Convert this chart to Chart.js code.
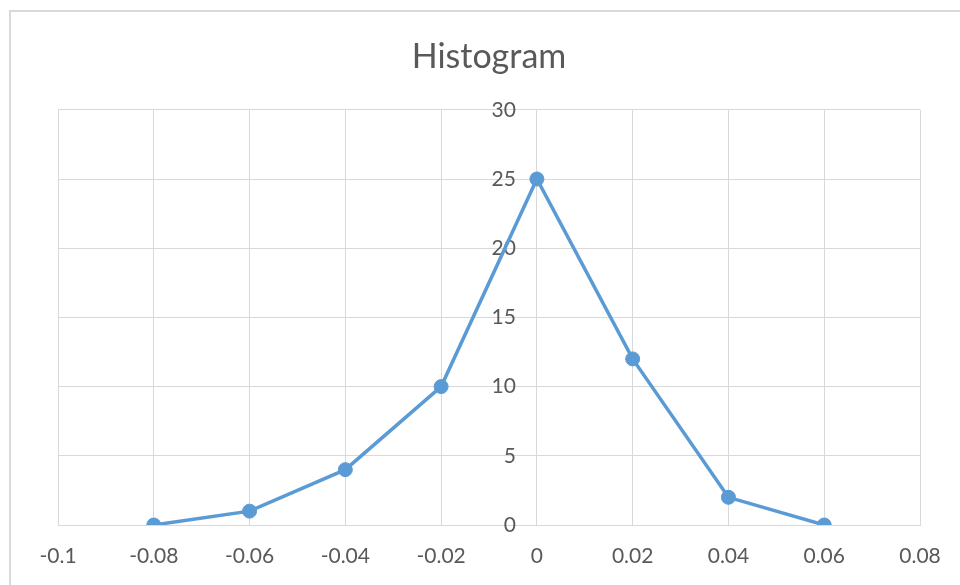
<!DOCTYPE html>
<html>
<head>
<meta charset="utf-8">
<script src="https://cdn.jsdelivr.net/npm/chart.js@4/dist/chart.umd.min.js"></script>
<style>
  html, body { margin: 0; padding: 0; background: #ffffff; }
  #wrap { position: relative; width: 960px; height: 585px; overflow: hidden; }
  #frame { position: absolute; left: 9px; top: 10px; width: 1000px; height: 1000px;
           border-left: 2px solid #d9d9d9; border-top: 2px solid #d9d9d9; box-sizing: border-box; }
  canvas { position: absolute; left: 0; top: 0; }
</style>
</head>
<body>
<div id="wrap">
  <div id="frame"></div>
  <canvas id="c" width="960" height="585"></canvas>
</div>
<script>
const chartTitle = "Histogram";
const binCenters = [-0.08, -0.06, -0.04, -0.02, 0, 0.02, 0.04, 0.06];
const frequencies = [0, 1, 4, 10, 25, 12, 2, 0];
const xTicks = [-0.1, -0.08, -0.06, -0.04, -0.02, 0, 0.02, 0.04, 0.06, 0.08];
const yTicks = [0, 5, 10, 15, 20, 25, 30];

const points = binCenters.map((x, i) => ({ x: x, y: frequencies[i] }));
const fontFamily = "Lato, 'Open Sans', sans-serif";
const textColor = "#595959";
const gridColor = "#d9d9d9";
const yLabelGap = 21;

new Chart(document.getElementById("c"), {
  type: "scatter",
  data: {
    datasets: [{
      data: points,
      showLine: true,
      borderColor: "#5b9bd5",
      backgroundColor: "#5b9bd5",
      borderWidth: 3.5,
      pointRadius: 7,
      pointBorderWidth: 1,
      pointBackgroundColor: "#5b9bd5",
      pointBorderColor: "#5b9bd5",
      tension: 0
    }]
  },
  options: {
    responsive: false,
    animation: false,
    layout: { padding: { left: 58, right: 40, top: 0, bottom: 0 } },
    plugins: {
      legend: { display: false },
      tooltip: { enabled: false },
      title: {
        display: true,
        text: chartTitle,
        color: textColor,
        font: { family: fontFamily, size: 34, weight: "normal", lineHeight: 1.2 },
        padding: { top: 37, bottom: 32 }
      }
    },
    scales: {
      x: {
        type: "linear",
        min: xTicks[0],
        max: xTicks[xTicks.length - 1],
        afterBuildTicks: (s) => { s.ticks = xTicks.map(v => ({ value: v })); },
        afterFit: (s) => { s.height = 60; },
        grid: { color: gridColor, lineWidth: 1, drawTicks: false },
        border: { color: gridColor, width: 1 },
        ticks: {
          color: textColor,
          padding: 19,
          maxRotation: 0,
          autoSkip: false,
          font: { family: fontFamily, size: 21 },
          callback: (v) => String(+v.toFixed(2))
        }
      },
      y: {
        type: "linear",
        position: { x: 0 },
        min: yTicks[0],
        max: yTicks[yTicks.length - 1],
        afterBuildTicks: (s) => { s.ticks = yTicks.map(v => ({ value: v })); },
        afterUpdate: (s) => {
          if (s._gapPatched) return;
          s._gapPatched = true;
          const orig = s._computeLabelItems.bind(s);
          s._computeLabelItems = (ca) => orig(ca).map(it => {
            if (it.options && it.options.translation) it.options.translation[0] -= yLabelGap;
            return it;
          });
        },
        grid: { color: gridColor, lineWidth: 1, drawTicks: false },
        border: { color: gridColor, width: 1 },
        ticks: {
          color: textColor,
          padding: 0,
          autoSkip: false,
          font: { family: fontFamily, size: 21 },
          callback: (v) => String(v)
        }
      }
    }
  }
});
</script>
</body>
</html>
